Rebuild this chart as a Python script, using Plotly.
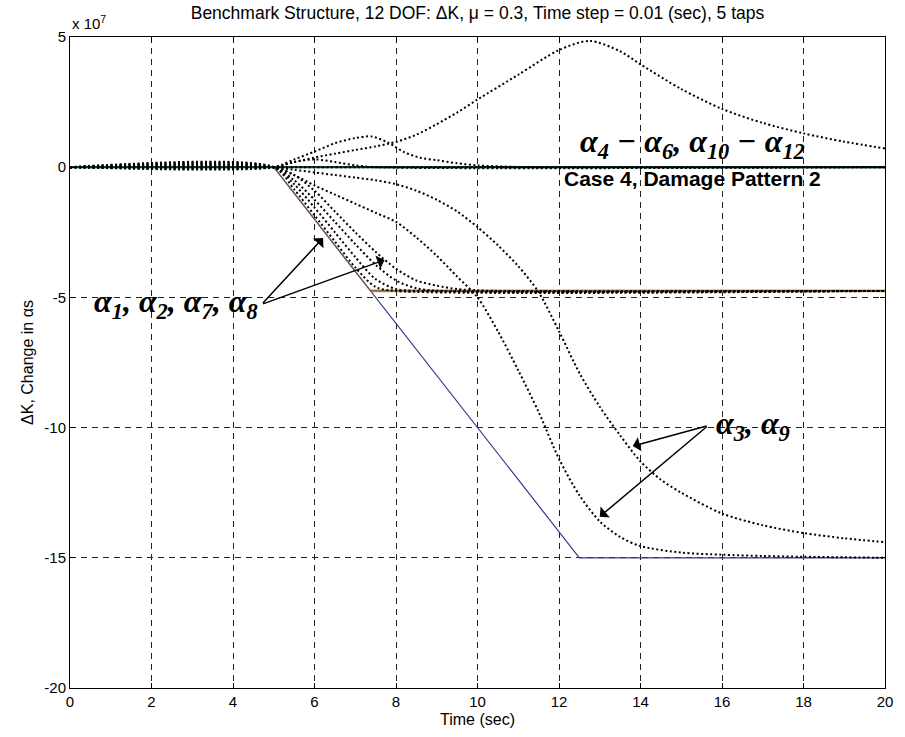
import plotly.graph_objects as go

# ---------------- data (units of 1e7) ----------------
t_true_a3 = [0, 5, 12.5, 20]
k_true_a3 = [0, 0, -15, -15]
t_true_a1 = [0, 5, 7.375, 20]
k_true_a1 = [0, 0, -4.75, -4.75]
t_true_a2 = [7.375, 20]
k_true_a2 = [-4.75, -4.75]
t_zero = [0, 20]
k_zero = [0, 0]

# estimates alpha4-alpha6, alpha10-alpha12
e1_t = [0, 5, 5.5, 6, 6.5, 7, 7.5, 8, 8.5, 9, 9.5, 10, 11, 12, 12.75, 13.5, 14, 15, 16, 17, 18, 19, 20]
e1_k = [0, 0, 0.2, 0.37, 0.52, 0.66, 0.8, 0.97, 1.25, 1.65, 2.1, 2.6, 3.55, 4.5, 4.85, 4.45, 3.95,
        3.0, 2.24, 1.7, 1.3, 0.98, 0.72]
e2_t = [0, 5, 5.5, 6, 6.5, 7, 7.4, 7.8, 8.2, 8.6, 9, 9.5, 10, 11, 20]
e2_k = [0, 0, 0.3, 0.6, 0.92, 1.12, 1.18, 0.95, 0.58, 0.36, 0.27, 0.15, 0.07, 0.01, 0]
e3_t = [0, 5, 5.5, 6, 6.5, 7, 7.5, 20]
e3_k = [0, 0, 0.2, 0.3, 0.2, 0.07, 0, 0]

# estimates alpha1, alpha2, alpha7, alpha8
d1_t = [0, 5, 5.5, 6, 6.5, 7, 7.5, 8, 20]
d1_k = [0, 0, -0.85, -1.85, -2.85, -3.85, -4.6, -4.75, -4.75]
d2_t = [0, 5, 5.5, 6, 6.5, 7, 7.5, 8, 8.5, 20]
d2_k = [0, 0, -0.65, -1.55, -2.5, -3.45, -4.3, -4.68, -4.75, -4.75]
d3_t = [0, 5, 5.5, 6, 6.5, 7, 7.5, 8, 8.5, 9, 20]
d3_k = [0, 0, -0.5, -1.25, -2.1, -2.95, -3.75, -4.35, -4.65, -4.74, -4.75]
d4_t = [0, 5, 5.5, 6, 6.5, 7, 7.5, 8, 8.5, 9, 9.5, 10, 10.5, 20]
d4_k = [0, 0, -0.3, -0.9, -1.7, -2.5, -3.25, -3.9, -4.35, -4.55, -4.68, -4.73, -4.75, -4.75]

# estimates alpha3, alpha9
f1_t = [0, 5, 5.5, 6, 6.5, 7, 7.5, 8, 8.5, 9, 9.5, 10, 10.5, 11, 11.5, 12, 12.5, 13, 13.5, 14, 15, 16, 17, 18, 20]
f1_k = [0, 0, -0.3, -0.7, -1.05, -1.4, -1.75, -2.1, -2.7, -3.4, -4.2, -5.0, -6.3, -7.8, -9.4, -11.2,
        -12.6, -13.6, -14.2, -14.55, -14.8, -14.88, -14.93, -14.96, -15]
f2_t = [0, 5, 5.5, 6, 6.5, 7, 7.5, 8, 8.5, 9, 9.5, 10, 10.5, 11, 11.5, 12, 12.5, 13, 13.5, 14, 14.5,
        15, 16, 17, 18, 19, 20]
f2_k = [0, 0, -0.1, -0.2, -0.3, -0.4, -0.5, -0.65, -0.9, -1.25, -1.7, -2.3, -3.0, -3.8, -4.8, -6.3,
        -7.9, -9.2, -10.3, -11.3, -12.0, -12.5, -13.3, -13.75, -14.05, -14.25, -14.4]

x_ticks = [0, 2, 4, 6, 8, 10, 12, 14, 16, 18, 20]
x_ticktext = ["0", "2", "4", "6", "8", "10", "12", "14", "16", "18", "20"]
y_ticks = [-20, -15, -10, -5, 0, 5]
y_ticktext = ["-20", "-15", "-10", "-5", "0", "5"]

fig = go.Figure()

# true values (solid)
for col in ["#00c8c8", "#e00000", "#c000c0"]:
    fig.add_trace(go.Scatter(x=t_zero, y=k_zero, mode="lines",
                             line=dict(color=col, width=1.4), showlegend=False))
fig.add_trace(go.Scatter(x=t_true_a3, y=k_true_a3, mode="lines",
                         line=dict(color="#3a3a8c", width=1.2), showlegend=False))
fig.add_trace(go.Scatter(x=t_true_a2, y=k_true_a2, mode="lines",
                         line=dict(color="#d49a3a", width=2.6), showlegend=False))
fig.add_trace(go.Scatter(x=t_true_a1, y=k_true_a1, mode="lines",
                         line=dict(color="#7a5a48", width=1.2), showlegend=False))
fig.add_trace(go.Scatter(x=t_zero, y=k_zero, mode="lines",
                         line=dict(color="#0a3c34", width=2.2), showlegend=False))

# estimates (dotted)
dot = dict(color="black", width=2.0, dash="2px,2.5px")
for tt, kk in [(t_zero, k_zero),
               (e1_t, e1_k), (e2_t, e2_k), (e3_t, e3_k),
               (d1_t, d1_k), (d2_t, d2_k), (d3_t, d3_k), (d4_t, d4_k),
               (f1_t, f1_k), (f2_t, f2_k)]:
    fig.add_trace(go.Scatter(x=tt, y=kk, mode="lines", line=dict(dot, shape="spline", smoothing=0.8),
                             showlegend=False))

sans = "Liberation Sans, Arial"
axis_common = dict(showline=True, linecolor="black", linewidth=1, mirror="ticks",
                   ticks="inside", ticklen=5, tickcolor="black",
                   showgrid=True, gridcolor="#222222", gridwidth=1, griddash="6px,5px",
                   zeroline=False,
                   tickfont=dict(family=sans, size=15, color="black"))

fig.update_layout(
    width=905, height=737,
    margin=dict(l=70, r=13, t=37, b=43),
    paper_bgcolor="white", plot_bgcolor="white",
    xaxis=dict(axis_common, range=[0, 20], tickvals=x_ticks, ticktext=x_ticktext,
               title=dict(text="Time (sec)", standoff=4,
                          font=dict(family=sans, size=16, color="black"))),
    yaxis=dict(axis_common, range=[-20, 5], tickvals=y_ticks, ticktext=y_ticktext,
               title=dict(text="ΔK, Change in αs", standoff=6,
                          font=dict(family=sans, size=16, color="black"))),
    title=dict(text="Benchmark Structure, 12 DOF: ΔK, μ = 0.3, Time step = 0.01 (sec), 5 taps",
               x=0.5, xref="paper", y=0.983, yref="container", xanchor="center", yanchor="middle",
               font=dict(family=sans, size=17.5, color="black")),
)

serif = dict(family="Liberation Serif, Times New Roman", size=32, color="black")
fig.add_annotation(x=0, y=5, xref="x", yref="y", text="x 10<sup>7</sup>", showarrow=False,
                   xanchor="left", yanchor="bottom", yshift=3,
                   font=dict(family=sans, size=15, color="black"))
fig.add_annotation(x=2.6, y=-5.25, xref="x", yref="y",
                   text="<b><i>α<sub>1</sub>, α<sub>2</sub>, α<sub>7</sub>, α<sub>8</sub></i></b>",
                   showarrow=False, font=serif)
fig.add_annotation(x=15.27, y=0.9, xref="x", yref="y",
                   text="<b><i>α<sub>4</sub> − α<sub>6</sub>, α<sub>10</sub> − α<sub>12</sub></i></b>",
                   showarrow=False, font=serif)
fig.add_annotation(x=15.27, y=-0.44, xref="x", yref="y",
                   text="<b>Case 4, Damage Pattern 2</b>", showarrow=False,
                   font=dict(family=sans, size=21, color="black"))
fig.add_annotation(x=16.75, y=-9.9, xref="x", yref="y",
                   text="<b><i>α<sub>3</sub>, α<sub>9</sub></i></b>", showarrow=False, font=serif)

arrows = [((4.70, -5.27), (6.21, -2.72)), ((4.70, -5.27), (7.72, -3.56)),
          ((15.66, -9.92), (13.81, -10.71)), ((15.66, -9.92), (13.0, -13.42))]
for (ax_, ay_), (x_, y_) in arrows:
    fig.add_annotation(x=x_, y=y_, ax=ax_, ay=ay_, xref="x", yref="y", axref="x", ayref="y",
                       text="", showarrow=True, arrowhead=1, arrowsize=1.6, arrowwidth=1.5,
                       arrowcolor="black")

fig.write_html("out.html")
